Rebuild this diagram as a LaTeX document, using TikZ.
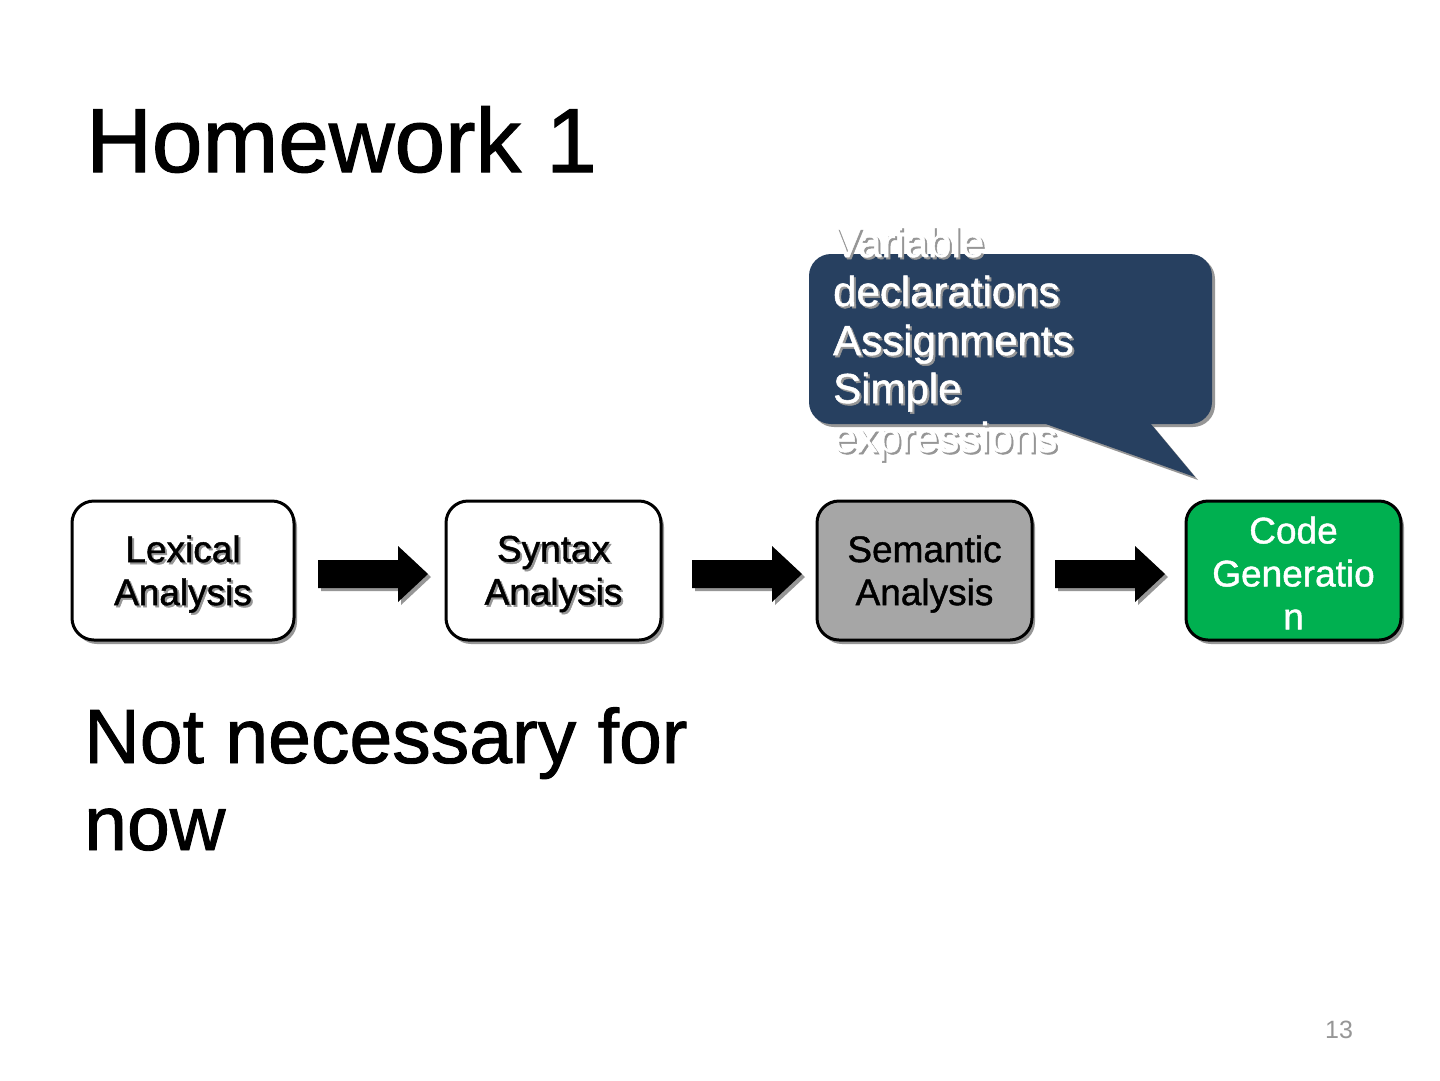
\documentclass[tikz,border=0pt]{standalone}
\usepackage{fontspec}
\setmainfont{Liberation Sans}
\newfontfamily\medfont{Liberation Sans}[FakeBold=1.2]
\usetikzlibrary{shadows}
\definecolor{navy}{RGB}{39,64,96}
\definecolor{codegreen}{RGB}{0,176,80}
\definecolor{boxgray}{RGB}{166,166,166}
\definecolor{shad}{RGB}{150,150,150}
\newcommand\stxt[4]{%
  \node[#1,text=shad] at ([shift={(2,2)}]#2) {#4};
  \node[#1] (#3) at (#2) {#4};}
% block arrow: start x, centre y
\newcommand\barrow[2]{%
  \fill[shad] (#1+3,#2-11) -- (#1+83,#2-11) -- (#1+83,#2-25) -- (#1+113,#2+3) -- (#1+83,#2+31) -- (#1+83,#2+17) -- (#1+3,#2+17) -- cycle;
  \fill[black] (#1,#2-14) -- (#1+80,#2-14) -- (#1+80,#2-28) -- (#1+110,#2) -- (#1+80,#2+28) -- (#1+80,#2+14) -- (#1,#2+14) -- cycle;}
\begin{document}
\begin{tikzpicture}[x=1pt,y=-1pt,
  stage/.style={draw=black,line width=3pt,rounded corners=22pt,minimum width=215pt,minimum height=139pt,inner sep=0pt,
    drop shadow={shadow xshift=3pt,shadow yshift=-4pt,fill=shad,opacity=1}},
  boxtext/.style={font=\medfont\fontsize{37}{43}\selectfont,align=center,inner sep=0pt},
  calltext/.style={font=\medfont\fontsize{42}{48}\selectfont,anchor=base west,inner sep=0pt,text=white}]
\useasboundingbox[fill=white] (0,0) rectangle (1440,1080);
% title
\node[font=\medfont\fontsize{91}{100}\selectfont,anchor=base west,inner sep=0pt] (title) at (86,172) {Homework 1};
% stages
\node[stage,fill=white,minimum width=222pt] (lex) at (183,570.5) {};
\node[stage,fill=white] (syn) at (553.5,570.5) {};
\node[stage,fill=boxgray] (sem) at (924.5,570.5) {};
\node[stage,fill=codegreen] (code) at (1293.5,570.5) {};
\stxt{boxtext}{183,574}{lext}{Lexical\\Analysis}
\stxt{boxtext}{553.5,574}{synt}{Syntax\\Analysis}
\node[boxtext] (semt) at (924.5,574) {Semantic\\Analysis};
\node[boxtext,text=white] (codet) at (1293.5,573) {Code\\Generatio\\n};
% block arrows
\barrow{318}{574}
\barrow{692}{574}
\barrow{1055}{574}
% callout
\begin{scope}[shift={(3,3)}]
\fill[shad,rounded corners=22pt] (809,254) rectangle (1212,424);
\fill[shad] (1043,423) -- (1195,477) -- (1150,423) -- cycle;
\end{scope}
\fill[navy,rounded corners=22pt] (809,254) rectangle (1212,424);
\fill[navy] (1043,423) -- (1195,477) -- (1150,423) -- cycle;
\stxt{calltext}{833,257}{c1}{Variable}
\stxt{calltext}{833,306}{c2}{declarations}
\stxt{calltext}{833,355}{c3}{Assignments}
\stxt{calltext}{833,403}{c4}{Simple}
\stxt{calltext}{833,452}{c5}{expressions}
% bottom text
\node[font=\medfont\fontsize{77}{87}\selectfont,anchor=base west,inner sep=0pt] (nn1) at (84,763) {Not necessary for};
\node[font=\medfont\fontsize{77}{87}\selectfont,anchor=base west,inner sep=0pt] (nn2) at (84,850) {now};
\node[font=\fontsize{25}{30}\selectfont,text=shad,anchor=base,inner sep=0pt] (pg) at (1339,1038) {13};
\end{tikzpicture}
\end{document}
